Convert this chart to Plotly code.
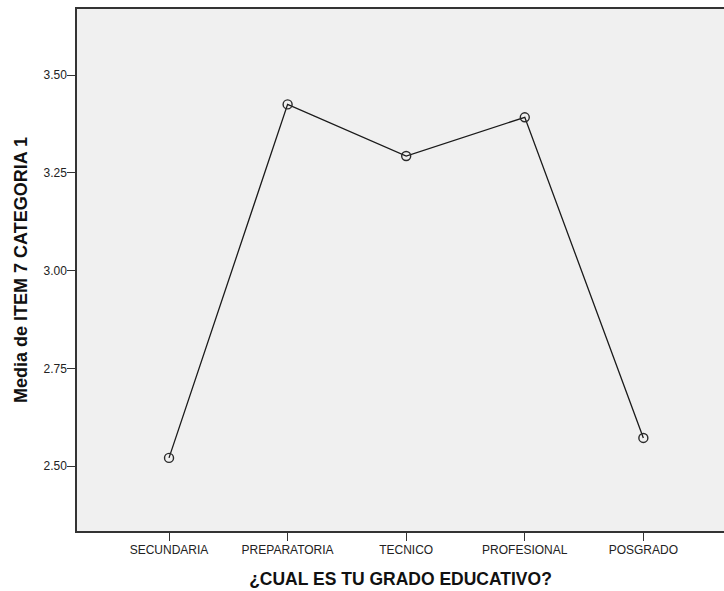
import plotly.graph_objects as go

# Mean of ITEM 7 CATEGORIA 1 by education level
categories = ["SECUNDARIA", "PREPARATORIA", "TECNICO", "PROFESIONAL", "POSGRADO"]
means = [2.521, 3.425, 3.293, 3.392, 2.572]

y_ticks = [2.50, 2.75, 3.00, 3.25, 3.50]
y_tick_labels = ["2.50", "2.75", "3.00", "3.25", "3.50"]

fig = go.Figure()
fig.add_trace(go.Scatter(
    x=list(range(len(categories))),
    y=means,
    mode="lines+markers",
    line=dict(color="#1a1a1a", width=1.3),
    marker=dict(symbol="circle-open", size=9, color="#2a2a2a", line=dict(width=1.4)),
    showlegend=False,
    hoverinfo="skip",
))

fig.update_layout(
    width=724, height=591,
    margin=dict(l=77, r=0, t=9, b=60),
    paper_bgcolor="white",
    plot_bgcolor="#F0F0F0",
    font=dict(family="Liberation Sans, Arial, sans-serif", color="#222222"),
)

fig.update_xaxes(
    range=[-0.776, 4.68],
    tickmode="array",
    tickvals=list(range(len(categories))),
    ticktext=categories,
    ticks="outside", ticklen=8, tickcolor="#333333", tickwidth=1.2,
    tickfont=dict(size=12),
    ticklabelstandoff=-1,
    showgrid=False, zeroline=False,
    showline=True, linecolor="#333333", linewidth=1.5, mirror=True,
    title=dict(text="<b>¿CUAL ES TU GRADO EDUCATIVO?</b>", font=dict(size=17.5, color="#111111"), standoff=17),
)

fig.update_yaxes(
    range=[2.334, 3.669],
    tickmode="array",
    tickvals=y_ticks,
    ticktext=y_tick_labels,
    ticks="outside", ticklen=8, tickcolor="#333333", tickwidth=1.2,
    tickfont=dict(size=12),
    ticklabelstandoff=-2,
    showgrid=False, zeroline=False,
    showline=True, linecolor="#333333", linewidth=1.5,
    title=dict(text="<b>Media de ITEM 7 CATEGORIA 1</b>", font=dict(size=18, color="#111111"), standoff=11),
)

fig.write_html("out.html")
